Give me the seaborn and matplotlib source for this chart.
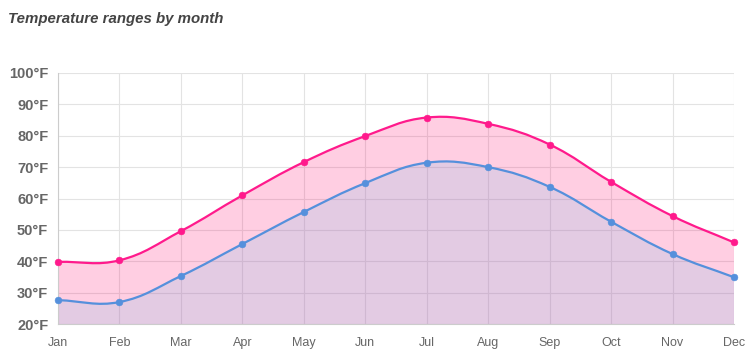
import numpy as np
import seaborn as sns
import matplotlib.pyplot as plt
import pandas as pd
from matplotlib.path import Path
from matplotlib.patches import PathPatch

months = ['Jan', 'Feb', 'Mar', 'Apr', 'May', 'Jun', 'Jul', 'Aug', 'Sep', 'Oct', 'Nov', 'Dec']
high_temps = [39.8, 40.3, 49.6, 61.0, 71.6, 79.9, 85.8, 83.8, 77.2, 65.3, 54.4, 46.0]
low_temps = [27.6, 27.0, 35.3, 45.5, 55.7, 64.9, 71.4, 70.0, 63.7, 52.6, 42.3, 34.9]
y_ticks = [20, 30, 40, 50, 60, 70, 80, 90, 100]

df = pd.DataFrame({'month': months, 'x': np.arange(len(months)),
                   'high': high_temps, 'low': low_temps})

sns.set_theme(style='whitegrid')
plt.rcParams['font.family'] = ['Liberation Sans', 'DejaVu Sans']

fig = plt.figure(figsize=(7.56, 3.56), dpi=100)
ax = fig.add_axes([58 / 756, 1 - 324 / 356, 676 / 756, 251 / 356])

# pixel scale of one month / one degree, used for spline control points
sx, sy = 676 / 11, 251 / 80


def smooth_path(xs, ys, tension=0.4):
    # cubic bezier through the points, Chart.js style spline
    xs = np.asarray(xs, float)
    ys = np.asarray(ys, float)
    px, py = xs * sx, ys * sy
    n = len(px)
    cp_prev, cp_next = [], []
    for i in range(n):
        a = max(i - 1, 0)
        b = min(i + 1, n - 1)
        d01 = np.hypot(px[i] - px[a], py[i] - py[a])
        d12 = np.hypot(px[b] - px[i], py[b] - py[i])
        tot = d01 + d12 if d01 + d12 else 1
        fa, fb = tension * d01 / tot, tension * d12 / tot
        dx, dy = px[b] - px[a], py[b] - py[a]
        cp_prev.append(((px[i] - fa * dx) / sx, (py[i] - fa * dy) / sy))
        cp_next.append(((px[i] + fb * dx) / sx, (py[i] + fb * dy) / sy))
    verts = [(xs[0], ys[0])]
    codes = [Path.MOVETO]
    for i in range(1, n):
        verts += [cp_next[i - 1], cp_prev[i], (xs[i], ys[i])]
        codes += [Path.CURVE4] * 3
    return verts, codes


def area_patch(xs, ys, base, color, alpha):
    xs = np.asarray(xs, float)
    ys = np.asarray(ys, float)
    verts, codes = smooth_path(xs, ys)
    verts = verts + [(xs[-1], base), (xs[0], base), (xs[0], ys[0])]
    codes = codes + [Path.LINETO, Path.LINETO, Path.CLOSEPOLY]
    return PathPatch(Path(verts, codes), facecolor=color, alpha=alpha, edgecolor='none', zorder=1)


def line_patch(xs, ys, color):
    verts, codes = smooth_path(xs, ys)
    return PathPatch(Path(verts, codes), facecolor='none', edgecolor=color, lw=1.6, zorder=3)


pink = '#ff1a8c'
blue = '#5590dc'

ax.add_patch(area_patch(df['x'], df['high'], 20, '#ff0a6e', 0.2))
ax.add_patch(area_patch(df['x'], df['low'], 20, '#73bfec', 0.2))
ax.add_patch(line_patch(df['x'], df['high'], pink))
ax.add_patch(line_patch(df['x'], df['low'], blue))

sns.scatterplot(data=df, x='x', y='high', color=pink, s=24, edgecolor=pink,
                zorder=4, clip_on=False, ax=ax)
sns.scatterplot(data=df, x='x', y='low', color=blue, s=24, edgecolor=blue,
                zorder=4, clip_on=False, ax=ax)

ax.set_xlim(0, 11)
ax.set_ylim(20, 100)
ax.set_xticks(df['x'])
ax.set_xticklabels(months, fontsize=9, color='#666666')
ax.set_yticks(y_ticks)
ax.set_yticklabels([f'{t}°F' for t in y_ticks], fontsize=10.5, fontweight='bold', color='#666666')
ax.set_xlabel('')
ax.set_ylabel('')

ax.grid(True, color='#e3e3e3', lw=0.8)
ax.set_axisbelow(True)
ax.tick_params(axis='both', length=6, width=0.8, color='#e0e0e0', direction='out')
ax.tick_params(axis='y', pad=1)
ax.tick_params(axis='x', pad=3.5)
for side in ['top', 'right']:
    ax.spines[side].set_visible(False)
for side in ['left', 'bottom']:
    ax.spines[side].set_color('#cccccc')
    ax.spines[side].set_linewidth(0.8)

fig.text(8 / 756, 1 - 19 / 356, 'Temperature ranges by month', fontsize=10.8,
         fontweight='bold', fontstyle='italic', color='#444444', va='center', ha='left')

fig.savefig('out.png', dpi=100)
